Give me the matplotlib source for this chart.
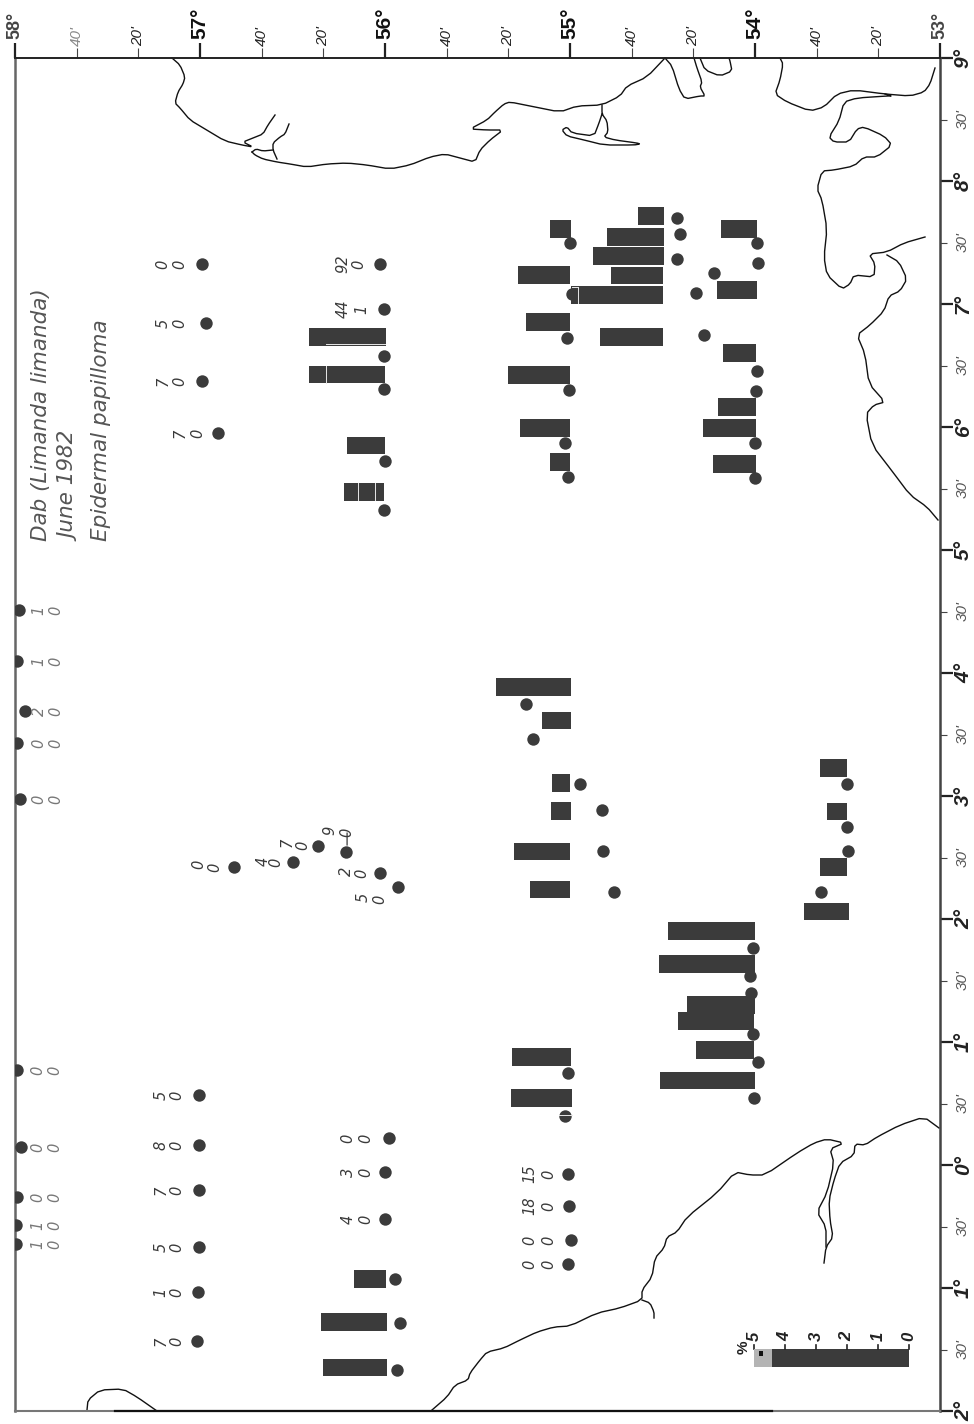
import matplotlib
matplotlib.use("Agg")
import matplotlib.pyplot as plt
from matplotlib.patches import Rectangle
from matplotlib.transforms import Affine2D

W, H = 974, 1424
INK = "#3b3b3b"
PCT_TO_LAT = 31 / 185  # map scale: degrees of latitude per 1 %

# ---- labelled stations: latitude, longitude, two counts ----
lab_lat = [56.989, 56.968, 56.989, 56.903, 56.027, 56.006,
           57.978, 57.989, 57.946, 57.989, 57.973,
           56.816, 56.497, 56.362, 56.211, 56.027, 55.930,
           55.011, 55.006, 54.995, 55.011,
           57.989, 57.968, 57.989, 57.995, 57.995,
           57.005, 57.005, 57.005, 57.005, 57.011, 57.016,
           55.979, 56.000, 56.000]
lab_lon = [7.325, 6.846, 6.374, 5.951, 7.325, 6.959,
           4.512, 4.098, 3.691, 3.431, 2.976,
           2.423, 2.463, 2.594, 2.545, 2.374, 2.260,
           -0.073, -0.333, -0.610, -0.805,
           0.772, 0.146, -0.260, -0.488, -0.642,
           0.569, 0.163, -0.203, -0.667, -1.032, -1.431,
           0.220, -0.057, -0.439]
count_a = ["0", "5", "7", "7", "92", "44",
           "1", "1", "2", "0", "0",
           "0", "4", "7", "9", "2", "5",
           "15", "18", "0", "0",
           "0", "0", "0", "1", "1",
           "5", "8", "7", "5", "1", "7",
           "0", "3", "4"]
count_b = ["0", "0", "0", "0", "0", "1",
           "0", "0", "0", "0", "0",
           "0", "0", "0", "0", "0", "0",
           "0", "0", "0", "0",
           "0", "0", "0", "0", "0",
           "0", "0", "0", "0", "0", "0",
           "0", "0", "0"]

# label placement in pixels from the station
off_a_x = [-39, -43, -39, -38, -37, -41,
           20, 22, 14, 22, 19,
           -35, -30, -31, -16, -34, -35,
           -38, -39, -41, -38,
           21, 17, 21, 22, 22,
           -38, -38, -38, -38, -37, -36,
           -41, -37, -37]
off_b_x = [-22, -26, -22, -20, -21, -22,
           37, 39, 31, 39, 36,
           -19, -17, -15, 1, -18, -18,
           -19, -20, -22, -19,
           38, 34, 38, 39, 39,
           -22, -22, -22, -22, -21, -20,
           -23, -19, -19]
off_a_y = [0] * 11 + [-3, -1, -4, -22, -2, 10] + [0] * 18
off_b_y = [0] * 11 + [0, 0, -1, -20, 0, 12] + [0] * 18

# ---- unlabelled stations ----
dot_lat = [56.006, 56.006, 56.000, 56.006,
           55.000, 54.989, 55.016, 55.006, 55.027, 55.011,
           54.422, 54.406, 54.422, 54.222, 54.319, 54.276,
           53.990, 53.984, 53.990, 53.995, 54.000, 54.000,
           55.238, 55.200, 54.946, 54.827, 54.822, 54.762,
           53.503, 53.503, 53.498, 53.644,
           54.011, 54.027, 54.022, 54.011, 53.984, 54.006,
           55.011, 55.027, 55.946, 55.919, 55.935]
dot_lon = [6.577, 6.309, 5.724, 5.325,
           7.496, 7.081, 6.724, 6.301, 5.870, 5.594,
           7.699, 7.569, 7.366, 7.252, 7.089, 6.748,
           7.496, 7.333, 6.455, 6.293, 5.870, 5.585,
           3.748, 3.463, 3.098, 2.886, 2.553, 2.220,
           3.098, 2.748, 2.553, 2.220,
           1.764, 1.537, 1.398, 1.065, 0.838, 0.545,
           0.748, 0.399, -0.927, -1.284, -1.667]

# ---- bars: base latitude, longitude, percentage ----
bar_lat = [55.995, 56.000, 56.000, 56.006,
           54.995, 55.000, 55.000, 55.000, 55.000, 55.000,
           54.492, 54.492, 54.492, 54.498, 54.498, 54.498,
           53.990, 53.990, 53.995, 53.995, 53.995, 53.995,
           54.995, 54.995, 55.000, 54.995, 55.000, 55.000,
           53.503, 53.503, 53.503, 53.492,
           54.000, 54.000, 54.000, 54.006, 54.006, 54.000,
           54.995, 54.989, 55.995, 55.989, 55.989]
bar_lon = [6.732, 6.427, 5.850, 5.472,
           7.610, 7.236, 6.854, 6.423, 5.992, 5.715,
           7.715, 7.545, 7.390, 7.232, 7.073, 6.732,
           7.610, 7.114, 6.602, 6.163, 5.992, 5.699,
           3.886, 3.614, 3.106, 2.878, 2.549, 2.240,
           3.228, 2.874, 2.423, 2.061,
           1.903, 1.634, 1.301, 1.171, 0.935, 0.687,
           0.878, 0.545, -0.927, -1.276, -1.646]
bar_pct = [2.48, 2.45, 1.23, 1.29,
           0.66, 1.68, 1.42, 2.00, 1.61, 0.63,
           0.84, 1.84, 2.29, 1.68, 2.97, 2.03,
           1.15, 1.27, 1.06, 1.23, 1.71, 1.39,
           2.42, 0.94, 0.57, 0.65, 1.81, 1.29,
           0.87, 0.65, 0.87, 1.45,
           2.81, 3.10, 2.19, 2.45, 1.87, 3.06,
           1.90, 1.97, 1.03, 2.13, 2.06]

# ---- axis ticks ----
lat_major = [58, 57, 56, 55, 54, 53]
lat_major_labels = ["58°", "57°", "56°", "55°", "54°", "53°"]
lat_minor = [57.667, 57.333, 56.667, 56.333, 55.667, 55.333, 54.667, 54.333, 53.667, 53.333]
lat_minor_labels = ["40'", "20'", "40'", "20'", "40'", "20'", "40'", "20'", "40'", "20'"]
lon_major = [9, 8, 7, 6, 5, 4, 3, 2, 1, 0, -1, -2]
lon_major_labels = ["9°", "8°", "7°", "6°", "5°", "4°", "3°", "2°", "1°", "0°", "1°", "2°"]
lon_minor = [8.5, 7.5, 6.5, 5.5, 4.5, 3.5, 2.5, 1.5, 0.5, -0.5, -1.5]
lon_minor_labels = ["30'"] * 11
scale_values = [0, 1, 2, 3, 4, 5]

# ---- base map outlines, traced from the printed sheet ----
coast_traces = [
    [(172,58),(180,65),(185,77),(183,84),(178,92),(175,103),(180,108),(190,120),(205,129),(225,141),
     (242,145),(253,147),(243,142),(253,138),(263,134),(268,125),(275,115)],
    [(289,124),(285,134),(280,137),(273,143),(273,150),(277,159)],
    [(252,152),(255,155),(263,159),(277,162),(290,164),(307,167),(327,164),(347,163),(367,165),(390,169),
     (410,165),(430,157),(445,154),(460,158),(475,162),(480,150),(490,140),(503,130),(487,130),(470,129),
     (487,120),(495,112),(504,104),(510,102),(530,106),(560,112),(577,106),(602,105),(620,96),(627,86),
     (647,77),(665,58)],
    [(252,152),(256,149),(263,151),(273,150)],
    [(602,105),(602,114),(607,121),(608,132),(604,137),(615,140),(637,143),(640,144),(634,145),(604,145),
     (584,140),(567,136),(562,130),(567,127),(572,133),(594,136),(599,123),(602,114)],
    [(665,58),(672,66),(679,89),(685,99),(700,96),(705,96),(700,87),(702,82),(697,68),(694,58)],
    [(700,58),(705,70),(720,76),(732,71),(730,61),(729,58)],
    [(780,58),(783,64),(780,80),(775,94),(787,102),(810,111),(824,107),(837,94),(854,90),(885,94),(910,96),
     (924,92),(930,84),(935,68)],
    [(885,94),(892,96),(887,96),(857,98),(844,102),(839,121),(829,137),(834,142),(849,142),(857,129),(864,127),
     (884,136),(892,145),(877,157),(864,157),(854,166),(834,170),(822,171),(817,189),(822,200),(827,229),
     (824,257),(827,275),(842,289),(850,284),(854,275),(874,277),(875,264),(869,254),(887,252),(904,243),(925,237)],
    [(887,255),(899,262),(907,279),(900,291),(889,296),(884,311),(870,325),(857,335),(865,354),(869,384),
     (885,402),(874,405),(866,414),(872,445),(892,471),(910,495),(927,507),(938,520)],
    [(939,1128),(924,1117),(900,1125),(877,1137),(865,1145),(855,1144),(854,1155),(840,1163),(834,1180),
     (829,1200),(830,1220),(833,1237),(826,1247),(824,1263)],
    [(826,1247),(826,1227),(817,1212),(827,1193),(834,1163),(830,1149),(844,1143),(827,1139),(814,1143),
     (797,1153),(765,1175),(750,1175),(735,1172),(717,1193),(687,1217),(677,1232),(667,1237),(664,1248),
     (655,1258),(652,1277),(642,1290),(642,1300),(620,1308),(597,1313),(570,1326),(554,1327),(537,1332),
     (520,1340),(504,1348),(487,1352),(480,1360),(470,1373),(468,1380),(455,1385),(447,1397),(432,1410)],
    [(642,1300),(650,1303),(654,1312),(654,1318)],
    [(87,1410),(88,1400),(100,1390),(123,1389),(137,1397),(157,1411)],
]
# white scratches on the printed bars, traced in sheet pixels
print_flaws = [[(326,344),(385,344)], [(326,366),(326,383)], [(358,483),(358,500)], [(375,483),(375,500)],
               [(578,287),(578,303)], [(572,287),(578,287)], [(559,1115),(572,1115)]]


def rounded(points):
    """Take the corners off a hand-traced outline (one corner-cutting pass)."""
    out = [points[0]]
    for (x0, y0), (x1, y1) in zip(points, points[1:]):
        out.append((0.8 * x0 + 0.2 * x1, 0.8 * y0 + 0.2 * y1))
        out.append((0.2 * x0 + 0.8 * x1, 0.2 * y0 + 0.8 * y1))
    out.append(points[-1])
    return out


# ---- figure ----
fig = plt.figure(figsize=(W / 100, H / 100), dpi=100, facecolor="white")
ax = fig.add_axes([15 / W, 1 - 1411 / H, 925 / W, 1353 / H])
ax.set_xlim(58, 53)
ax.set_ylim(-2, 9)
ax.set_facecolor("white")

ax.spines["left"].set(color="#666666", linewidth=1.8)
ax.spines["right"].set(color="#444444", linewidth=1.8)
ax.spines["top"].set(color="#222222", linewidth=1.4)
ax.spines["bottom"].set(color="#777777", linewidth=1.5)

ax.xaxis.set_ticks_position("top")
ax.yaxis.set_ticks_position("right")
ax.set_xticks(lat_major, lat_major_labels)
ax.set_xticks(lat_minor, lat_minor_labels, minor=True)
ax.set_yticks(lon_major, lon_major_labels)
ax.set_yticks(lon_minor, lon_minor_labels, minor=True)
ax.tick_params(axis="x", which="major", length=10.5, width=1.6, color="#222222", pad=3)
ax.tick_params(axis="x", which="minor", length=7.5, width=0.8, color="#444444", pad=1)
ax.tick_params(axis="y", which="major", length=9, width=1.6, color="#222222", pad=1)
ax.tick_params(axis="y", which="minor", length=5, width=0.8, color="#444444", pad=6)

SANS = "Liberation Sans"
for t in ax.get_xticklabels():
    t.set(rotation=90, ha="center", va="bottom", family=SANS, weight="bold", size=15, color="#111111")
for t in ax.get_xticklabels()[0:1] + ax.get_xticklabels()[-1:]:
    t.set(size=13, color="#444444")
for t in ax.get_xticklabels(minor=True):
    t.set(rotation=90, ha="center", va="bottom", family=SANS, style="italic", size=11, color="#222222")
ax.get_xticklabels(minor=True)[0].set_color("#888888")
for t in ax.get_yticklabels():
    t.set(rotation=90, ha="left", va="center", family=SANS, weight="bold", style="italic", size=15, color="#222222")
for t in ax.get_yticklabels(minor=True):
    t.set(rotation=90, ha="left", va="center", family=SANS, style="italic", size=11, color="#555555")

# coastline tracing lives in sheet pixels
sheet = Affine2D().scale(1, -1).translate(0, H)
for trace in coast_traces:
    xs, ys = zip(*rounded(trace))
    ax.plot(xs, ys, transform=sheet, color="#111111", lw=1.0, clip_on=False, solid_joinstyle="round", zorder=2)
# darker stretch of the lower frame line
ax.plot([115, 772], [1411, 1411], transform=sheet, color="#111111", lw=1.6, clip_on=False, zorder=3)

# bars (inverted latitude axis: width grows towards north = left)
ax.barh(bar_lon, [p * PCT_TO_LAT for p in bar_pct], left=bar_lat, height=0.14,
        color=INK, edgecolor="none", zorder=3)

# stations
ax.scatter(lab_lat, lab_lon, s=80, color=INK, linewidths=0, zorder=4)
ax.scatter(dot_lat, dot_lon, s=80, color=INK, linewidths=0, zorder=4)

for flaw in print_flaws:
    xs, ys = zip(*flaw)
    ax.plot(xs, ys, transform=sheet, color="#e8e8e8", lw=0.7, zorder=4.5)

# counts
for lat, lon, a, b, ax_, bx_, ay_, by_ in zip(lab_lat, lab_lon, count_a, count_b, off_a_x, off_b_x, off_a_y, off_b_y):
    col = "#777777" if lat > 57.9 else "#3a3a3a"
    for s, dx, dy in ((a, ax_, ay_), (b, bx_, by_)):
        ax.annotate(s, (lat, lon), xytext=(dx, -dy), textcoords="offset pixels",
                    rotation=90, ha="center", va="center", family="DejaVu Sans", style="italic",
                    size=10.5, color=col, zorder=5)

# leader of the "9 / 0" station
ax.annotate("", (56.205, 2.70), xytext=(56.205, 2.60),
            arrowprops=dict(arrowstyle="-", color="#222222", lw=0.8, shrinkA=0, shrinkB=0))

# percentage scale bar
scale_lat, scale_lon, scale_h = 53.168, -1.569, 0.145
ax.barh([scale_lon], [5 * PCT_TO_LAT], left=scale_lat, height=scale_h, color=INK, zorder=3)
ax.add_patch(Rectangle((scale_lat + 4.42 * PCT_TO_LAT, scale_lon - scale_h / 2), 0.58 * PCT_TO_LAT, scale_h,
                       facecolor="#b4b4b4", edgecolor="none", zorder=3.5))
ax.add_patch(Rectangle((scale_lat + 4.70 * PCT_TO_LAT, scale_lon + 0.02), 0.14 * PCT_TO_LAT, 0.04,
                       facecolor="#111111", edgecolor="none", zorder=3.6))
for v in scale_values:
    lat_v = scale_lat + v * PCT_TO_LAT
    ax.plot([lat_v, lat_v], [scale_lon + scale_h / 2, scale_lon + scale_h / 2 + 0.035],
            color="#222222", lw=1.2, zorder=3)
    ax.annotate(str(v), (lat_v, scale_lon + scale_h / 2), xytext=(0, 13), textcoords="offset pixels",
                rotation=90, ha="center", va="center", family=SANS, weight="bold", style="italic",
                size=12, color="#222222")
ax.annotate("%", (scale_lat + 5 * PCT_TO_LAT, scale_lon + scale_h / 2), xytext=(-10, 2),
            textcoords="offset pixels", rotation=90, ha="center", va="center",
            family=SANS, weight="bold", size=11, color="#222222")

# caption
for x_px, txt in ((41, "Dab (Limanda limanda)"), (71, "June 1982"), (101, "Epidermal papilloma")):
    fig.text(x_px / W, 1 - 541 / H, txt, rotation=90, ha="center", va="bottom",
             family="DejaVu Sans", style="italic", size=15.5, color="#555555")

fig.savefig("out.png", dpi=100, facecolor="white")
